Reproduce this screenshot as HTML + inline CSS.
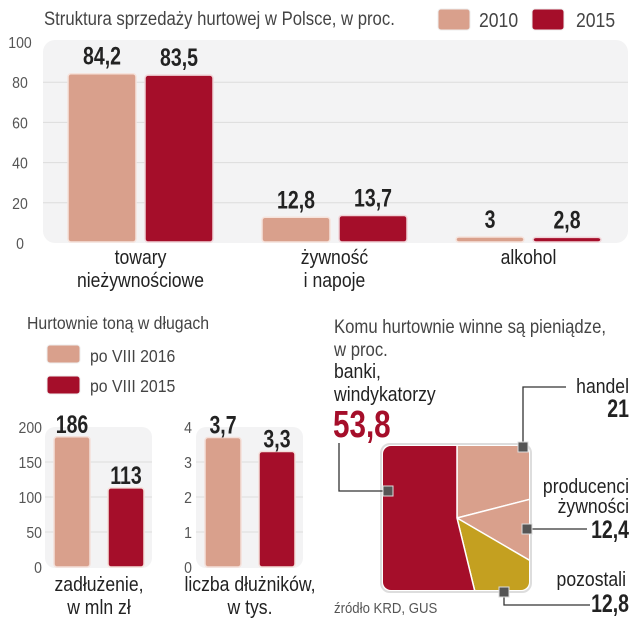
<!DOCTYPE html>
<html><head><meta charset="utf-8"><style>
html,body{margin:0;padding:0;background:#fff;width:640px;height:640px;overflow:hidden}
svg{display:block;font-family:"Liberation Sans","DejaVu Sans",sans-serif}
.t{fill:#444}.b{font-weight:bold;fill:#222}
</style></head><body>
<svg id="s" width="640" height="640" viewBox="0 0 640 640">
<defs><clipPath id="pc"><rect x="383" y="446" width="146" height="144" rx="8"/></clipPath></defs>
<g id="top"></g>
<g id="bl"></g>
<g id="pie"></g>
</svg>
<script>
const topCats=[["towary","nieżywnościowe"],["żywność","i napoje"],["alkohol"]];
const v2010=[84.2,12.8,3];
const v2015=[83.5,13.7,2.8];
const v2010Labels=["84,2","12,8","3"];
const v2015Labels=["83,5","13,7","2,8"];
const topTicks=[0,20,40,60,80,100];
const debtVals=[186,113];const debtLabels=["186","113"];const debtTicks=[0,50,100,150,200];
const cntVals=[3.7,3.3];const cntLabels=["3,7","3,3"];const cntTicks=[0,1,2,3,4];
const pieNames=["handel","producenci","pozostali","banki"];
const pieVals=[21,12.4,12.8,53.8];
const C1="#d9a08c",C2="#a50e2a",CG="#c4a020";
const NS="http://www.w3.org/2000/svg";
function mk(p,tag,a,txt){const e=document.createElementNS(NS,tag);for(const k in a)e.setAttribute(k,a[k]);if(txt!==undefined)e.textContent=txt;p.appendChild(e);
 if(tag==='text'){const k=(a['class']||'').indexOf('b')>=0||a['font-weight']==='bold'?0.78:0.88;const x=a.x;e.setAttribute('transform',`translate(${x},0) scale(${k},1) translate(${-x},0)`);}
 return e;}
// TOP CHART
const T=document.getElementById('top');
const ty=v=>243-v*2.01;
mk(T,'text',{x:44,y:25,'font-size':19,class:'t'},"Struktura sprzedaży hurtowej w Polsce, w proc.");
let r=mk(T,'rect',{x:438,y:9,width:32,height:21,rx:3,fill:C1,stroke:'#eee'});
mk(T,'text',{x:479,y:27,'font-size':20,class:'t'},"2010");
r=mk(T,'rect',{x:532,y:9,width:32,height:21,rx:3,fill:C2,stroke:'#eee'});
mk(T,'text',{x:576,y:27,'font-size':20,class:'t'},"2015");
mk(T,'rect',{x:43,y:40,width:585,height:203,rx:12,fill:'#f3f3f4'});
topTicks.forEach(t=>{
 if(t>0&&t<100){const g=mk(T,'line',{x1:43,x2:628,y1:ty(t),y2:ty(t),stroke:'#dcdcdc','stroke-width':1});}
 const l=mk(T,'text',{x:20,y:ty(t)+6,'font-size':16,'text-anchor':'middle',fill:'#555'},String(t));
});
const x0=[68,262,456],x1=[145,339,533],bw=68;
topCats.forEach((c,i)=>{
 let b=mk(T,'rect',{x:x0[i],y:ty(v2010[i]),width:bw,height:243-ty(v2010[i])-1,rx:3,fill:C1,stroke:'#f6e3dc','stroke-width':1.5});
 b=mk(T,'rect',{x:x1[i],y:ty(v2015[i]),width:bw,height:243-ty(v2015[i])-1,rx:3,fill:C2,stroke:'#f0d4d8','stroke-width':1.5});
 let l=mk(T,'text',{x:x0[i]+bw/2,y:ty(v2010[i])-9,'font-size':25,'text-anchor':'middle',class:'b'},v2010Labels[i]);
 l=mk(T,'text',{x:x1[i]+bw/2,y:ty(v2015[i])-9,'font-size':25,'text-anchor':'middle',class:'b'},v2015Labels[i]);
 c.forEach((line,j)=>{const e=mk(T,'text',{x:(x0[i]+x1[i]+bw)/2,y:264+j*23,'font-size':20,'text-anchor':'middle',fill:'#222'},line);});
});
// BOTTOM LEFT
const B=document.getElementById('bl');
mk(B,'text',{x:27,y:329,'font-size':18,class:'t'},"Hurtownie toną w długach");
r=mk(B,'rect',{x:47,y:345,width:33,height:18,rx:3,fill:C1,stroke:'#eee'});
mk(B,'text',{x:90,y:362,'font-size':18,class:'t'},"po VIII 2016");
r=mk(B,'rect',{x:47,y:376,width:33,height:18,rx:3,fill:C2,stroke:'#eee'});
mk(B,'text',{x:90,y:392,'font-size':18,class:'t'},"po VIII 2015");
function small(px,vals,labels,ticks,max,cat,tickX){
 const sy=v=>567-v/max*140;
 mk(B,'rect',{x:px,y:427,width:107,height:141,rx:10,fill:'#f3f3f4'});
 ticks.forEach(t=>{
  if(t>0&&t<max){const g=mk(B,'line',{x1:px,x2:px+107,y1:sy(t),y2:sy(t),stroke:'#dcdcdc'});}
  const l=mk(B,'text',{x:tickX,y:sy(t)+6,'font-size':16,'text-anchor':'end',fill:'#555'},String(t));
 });
 const bx=[px+9,px+63],cols=[C1,C2];
 vals.forEach((v,i)=>{
  const b=mk(B,'rect',{x:bx[i],y:sy(v),width:36,height:567-sy(v),rx:3,fill:cols[i],stroke:'#f4e0da','stroke-width':1.5});
  const l=mk(B,'text',{x:bx[i]+18,y:sy(v)-4,'font-size':25,'text-anchor':'middle',class:'b'},labels[i]);
 });
 cat.forEach((c,j)=>{const e=mk(B,'text',{x:px+54,y:591+j*23,'font-size':20,'text-anchor':'middle',fill:'#222'},c);});
}
small(45,debtVals,debtLabels,debtTicks,200,["zadłużenie,","w mln zł"],42);
small(196,cntVals,cntLabels,cntTicks,4,["liczba dłużników,","w tys."],192);
// PIE
const P=document.getElementById('pie');
mk(P,'text',{x:334,y:333,'font-size':19,class:'t'},"Komu hurtownie winne są pieniądze,");
mk(P,'text',{x:334,y:356,'font-size':19,class:'t'},"w proc.");
mk(P,'rect',{x:381,y:444,width:150,height:148,rx:9,fill:'#fff',stroke:'#ddd','stroke-width':2});
const cx=457,cy=518,R=200,pc=[C1,C1,CG,C2];
const pg=mk(P,'g',{'clip-path':'url(#pc)'});
let a=0;const tot=pieVals.reduce((s,v)=>s+v,0);
pieVals.forEach((v,i)=>{
 const a2=a+v/tot*2*Math.PI;
 const p=(ang)=>[cx+R*Math.sin(ang),cy-R*Math.cos(ang)];
 const [ax,ay]=p(a),[bx,by]=p(a2);
 const s=mk(pg,'path',{d:`M${cx},${cy}L${ax},${ay}A${R},${R} 0 ${a2-a>Math.PI?1:0} 1 ${bx},${by}Z`,fill:pc[i],stroke:'#fff','stroke-width':1.5});
 
 a=a2;
});
function lead(pts,mx,my){mk(P,'polyline',{points:pts,fill:'none',stroke:'#333','stroke-width':1.3});
 mk(P,'rect',{x:mx-5,y:my-5,width:10,height:10,fill:'#555',stroke:'#ddd'});}
lead("523,447 523,387 566,387",523,447);
lead("388,491 339,491 339,443",388,491);
lead("527,529 587,529",527,529);
lead("504,592 504,605 590,605",504,592);
const txt=(x,y,s,t,anchor,cls,fill,name,fw)=>{const at={x:x,y:y,'font-size':s,'text-anchor':anchor,class:cls||'',fill:fill||'#222'};if(fw)at['font-weight']=fw;const e=mk(P,'text',at,t);return e;};
txt(334,378,20,"banki,","start","","#222","label-banki");
txt(334,401,20,"windykatorzy","start","","#222","label-banki-2");
txt(333,437,38,"53,8","start","",C2,"value-banki","bold");
txt(629,393,20,"handel","end","","#222","label-handel");
txt(629,417,25,"21","end","b","#222","value-handel");
txt(629,493,20,"producenci","end","","#222","label-producenci");
txt(629,513,20,"żywności","end","","#222","label-producenci-2");
txt(629,538,25,"12,4","end","b","#222","value-producenci");
txt(626,586,20,"pozostali","end","","#222","label-pozostali");
txt(629,612,25,"12,8","end","b","#222","value-pozostali");
txt(334,613,15,"źródło KRD, GUS","start","","#555","source-note");
</script>
</body></html>
